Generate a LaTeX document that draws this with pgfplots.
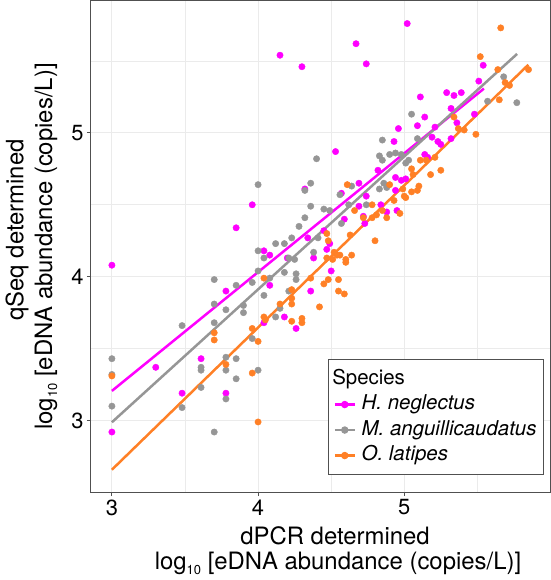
\documentclass[border=0pt]{standalone}
\usepackage{fontspec}
\setmainfont{TeX Gyre Heros}
\usepackage{pgfplots}
\pgfplotsset{compat=1.18}
\definecolor{hn}{RGB}{255,0,255}
\definecolor{ma}{RGB}{150,150,150}
\definecolor{ol}{RGB}{255,128,38}
\definecolor{gridc}{RGB}{235,235,235}
\definecolor{bord}{RGB}{80,80,80}
\newcommand{\logten}{log\raisebox{-5bp}{\fontsize{13}{13}\selectfont 10}}
\begin{document}
\begin{tikzpicture}
\useasboundingbox (-91bp,-88bp) rectangle (460bp,492bp);
\begin{axis}[
  at={(0,0)}, anchor=south west,
  scale only axis, width=459bp, height=491bp,
  xmin=2.857, xmax=5.997, ymin=2.503, ymax=5.917,
  xtick={3,4,5}, ytick={3,4,5},
  minor xtick={3.5,4.5,5.5}, minor ytick={3.5,4.5,5.5},
  grid=both,
  major grid style={color=gridc, line width=1bp},
  minor grid style={color=gridc, line width=0.7bp},
  tick align=outside, major tick length=4bp, minor tick length=0pt,
  tick style={color=bord, line width=1bp},
  axis line style={color=bord, line width=1bp},
  xtick pos=bottom, ytick pos=left,
  ticklabel style={font=\fontsize{22}{22}\selectfont, text=black},
  /pgf/number format/assume math mode=true,
  legend cell align=left,
  legend style={at={(rel axis cs:0.5157,0.2703)}, anchor=north west,
    draw=bord, line width=1bp, fill=white,
    font=\fontsize{20.5}{20.5}\selectfont,
    inner xsep=5.3bp, inner ysep=6.5bp, row sep=0bp,
    /tikz/every odd column/.append style={column sep=3.7bp},
    nodes={inner sep=2bp, text height=16bp, text depth=5.5bp}},
]
\addplot[only marks, mark=*, mark size=3.2bp, color=hn, forget plot] coordinates {
(3.00,4.08) (3.00,2.92) (3.30,3.37) (3.48,3.19) (3.61,3.43) (3.78,3.90) (3.78,3.19) (3.85,4.34) (3.96,4.50) (4.15,5.54) (4.30,5.46) (4.32,4.61) (4.34,4.27) (4.04,4.18) (4.08,4.15) (4.20,4.13) (4.08,3.94) (4.04,3.68) (4.18,3.72) (4.26,3.64) (4.36,3.90) (4.38,4.13) (4.47,4.19) (4.49,4.23) (4.50,4.04) (4.45,4.32) (4.53,4.87) (4.57,4.58) (4.59,4.40) (4.69,4.65) (4.69,4.49) (4.72,4.42) (4.73,4.37) (4.67,5.62) (4.74,5.48) (5.02,5.76) (4.74,4.56) (4.82,4.74) (4.84,4.50) (4.88,4.45) (4.95,4.46) (4.93,4.94) (4.94,4.60) (4.94,4.69) (4.98,4.67) (5.01,4.68) (4.96,5.03) (5.09,5.05) (5.11,5.25) (5.14,5.11) (5.14,4.85) (5.16,4.83) (5.19,4.97) (5.21,5.04) (5.23,4.94) (5.25,4.92) (5.29,5.28) (5.34,5.26) (5.39,5.28) (5.32,5.17) (5.32,4.96) (5.36,5.07) (5.48,5.13) (5.51,5.36) (5.54,5.47)
};
\addplot[only marks, mark=*, mark size=3.2bp, color=ma, forget plot] coordinates {
(3.00,3.43) (3.00,3.32) (3.00,3.10) (3.48,3.66) (3.48,3.09) (3.61,3.37) (3.61,3.35) (3.61,3.23) (3.70,3.98) (3.70,3.81) (3.70,3.68) (3.70,2.92) (3.78,3.77) (3.78,3.44) (3.78,3.35) (3.78,3.15) (3.85,3.94) (3.90,3.80) (3.90,3.75) (3.85,3.43) (3.85,3.29) (3.96,3.96) (3.96,3.57) (4.00,3.35) (4.00,4.18) (4.00,4.04) (4.04,4.13) (4.08,3.99) (4.04,3.87) (4.12,4.23) (4.12,3.72) (4.15,3.78) (4.18,4.23) (4.18,4.03) (4.23,4.27) (4.21,4.13) (4.25,4.12) (4.26,4.02) (4.26,3.98) (4.21,3.90) (4.38,4.17) (4.00,4.64) (4.28,4.35) (4.32,4.41) (4.36,4.49) (4.32,4.60) (4.36,4.65) (4.40,4.82) (4.45,4.47) (4.49,4.46) (4.41,4.27) (4.57,4.37) (4.56,4.57) (4.62,4.50) (4.64,4.63) (4.74,4.50) (4.83,4.84) (4.85,4.81) (4.90,4.85) (4.94,4.86) (4.98,4.85) (5.01,4.79) (5.03,4.81) (5.05,5.13) (5.09,4.96) (4.85,4.95) (4.86,4.65) (4.88,4.62) (4.83,4.61) (5.57,5.22) (5.68,5.39) (5.77,5.21)
};
\addplot[only marks, mark=*, mark size=3.2bp, color=ol, forget plot] coordinates {
(3.00,3.31) (3.70,3.61) (3.70,3.56) (3.78,3.39) (3.96,3.64) (4.00,3.55) (3.96,3.33) (4.00,2.99) (4.04,3.99) (4.04,3.72) (4.05,3.70) (4.15,3.81) (4.23,3.91) (4.23,3.85) (4.23,3.81) (4.23,3.69) (4.30,3.71) (4.30,3.68) (4.36,3.99) (4.42,3.79) (4.47,4.30) (4.48,4.25) (4.47,4.13) (4.52,4.17) (4.54,4.15) (4.56,4.15) (4.60,4.12) (4.60,4.10) (4.64,4.15) (4.51,4.12) (4.48,3.98) (4.45,3.95) (4.55,3.98) (4.55,3.90) (4.59,3.88) (4.63,4.29) (4.80,4.25) (4.61,4.64) (4.66,4.46) (4.72,4.41) (4.78,4.50) (4.78,4.41) (4.81,4.43) (4.85,4.46) (4.88,4.41) (4.93,4.53) (4.97,4.44) (4.90,4.64) (4.99,4.61) (5.00,4.56) (5.01,4.55) (5.05,4.59) (5.09,4.60) (5.10,4.63) (5.05,4.75) (5.06,4.71) (5.11,4.81) (5.15,4.81) (5.18,4.71) (5.21,4.83) (5.25,4.74) (5.34,5.11) (5.37,5.03) (5.41,5.02) (5.49,4.99) (5.52,5.53) (5.64,5.44) (5.66,5.73) (5.65,5.23) (5.69,5.35) (5.72,5.33) (5.85,5.44)
};
\addplot[hn, line width=2.5bp, forget plot] coordinates {(3.00,3.206) (5.545,5.308)};
\addplot[ma, line width=2.5bp, forget plot] coordinates {(3.00,2.988) (5.772,5.549)};
\addplot[ol, line width=2.5bp, forget plot] coordinates {(3.00,2.658) (5.849,5.474)};
\addlegendimage{empty legend}
\addlegendentry{\hspace{-29.4bp}Species}
\addlegendimage{hn, legend image code/.code={\draw[line width=2.5bp] (0bp,0bp)--(20bp,0bp); \fill (10bp,0bp) circle (3.2bp);}}
\addlegendentry{\textit{H. neglectus}}
\addlegendimage{ma, legend image code/.code={\draw[line width=2.5bp] (0bp,0bp)--(20bp,0bp); \fill (10bp,0bp) circle (3.2bp);}}
\addlegendentry{\textit{M. anguillicaudatus}}
\addlegendimage{ol, legend image code/.code={\draw[line width=2.5bp] (0bp,0bp)--(20bp,0bp); \fill (10bp,0bp) circle (3.2bp);}}
\addlegendentry{\textit{O. latipes}}
\end{axis}
\node[font=\fontsize{24}{24}\selectfont] at (244bp,-44bp) {dPCR determined};
\node[font=\fontsize{24}{24}\selectfont] at (247bp,-71bp) {\logten{} [eDNA abundance (copies/L)]};
\node[font=\fontsize{24}{24}\selectfont, rotate=90] at (-74bp,262bp) {qSeq determined};
\node[font=\fontsize{24}{24}\selectfont, rotate=90] at (-45bp,245.5bp) {\logten{} [eDNA abundance (copies/L)]};
\end{tikzpicture}
\end{document}
